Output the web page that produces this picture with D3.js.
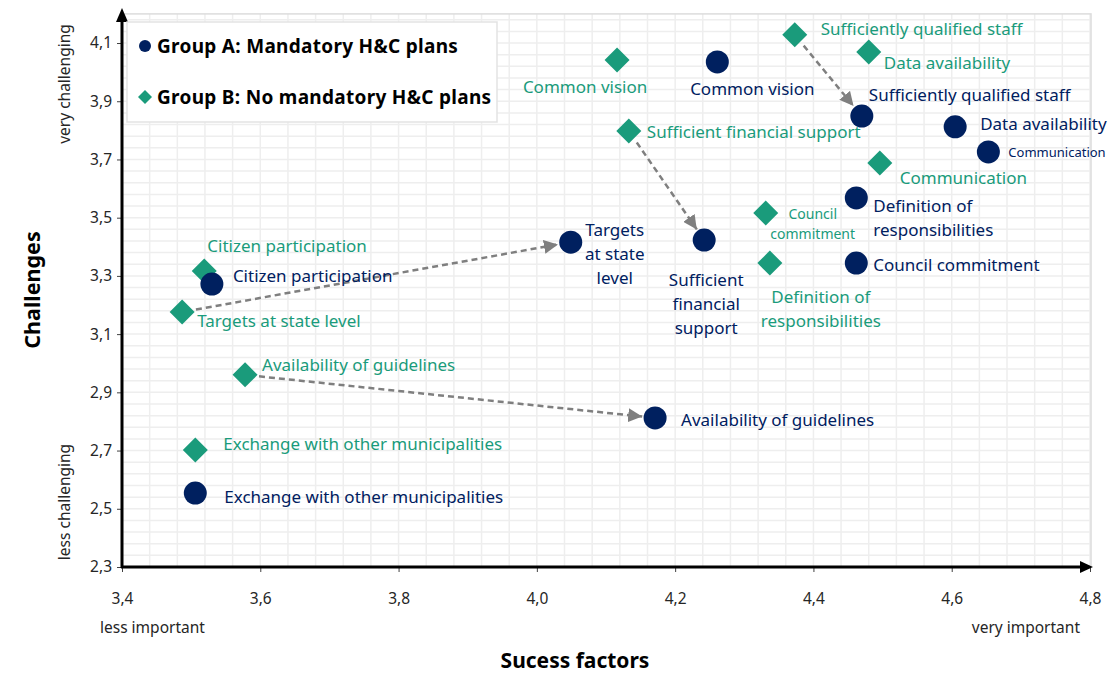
<!DOCTYPE html>
<html>
<head>
<meta charset="utf-8">
<script src="https://cdn.jsdelivr.net/npm/d3@7"></script>
<style>
  body { margin: 0; background: #fff; }
  text { font-family: "Noto Sans", "Open Sans", sans-serif; }
</style>
</head>
<body>
<svg id="chart"></svg>
<script>
// ---- data ----
var factors = [
  "Common vision", "Sufficiently qualified staff", "Data availability", "Communication",
  "Definition of responsibilities", "Council commitment", "Sufficient financial support",
  "Targets at state level", "Citizen participation", "Availability of guidelines",
  "Exchange with other municipalities"
];
// Group A: Mandatory H&C plans
var groupA_success = [4.261, 4.470, 4.605, 4.653, 4.462, 4.462, 4.242, 4.049, 3.530, 4.171, 3.506];
var groupA_challenge = [4.035, 3.849, 3.812, 3.726, 3.568, 3.344, 3.423, 3.416, 3.272, 2.812, 2.554];
// Group B: No mandatory H&C plans
var groupB_success = [4.116, 4.373, 4.480, 4.496, 4.337, 4.331, 4.133, 3.487, 3.519, 3.578, 3.506];
var groupB_challenge = [4.042, 4.128, 4.069, 3.688, 3.344, 3.516, 3.798, 3.176, 3.317, 2.960, 2.702];

var arrowFactors = ["Sufficiently qualified staff", "Sufficient financial support",
                    "Targets at state level", "Availability of guidelines"];

var xTicks = [3.4, 3.6, 3.8, 4.0, 4.2, 4.4, 4.6, 4.8];
var yTicks = [2.3, 2.5, 2.7, 2.9, 3.1, 3.3, 3.5, 3.7, 3.9, 4.1];
var groupNames = ["Group A: Mandatory H&C plans", "Group B: No mandatory H&C plans"];

// ---- label layout (pixel offsets from the marker) ----
var labelsA = {
  "Common vision": {dx: 35, dy: 26, anchor: "middle"},
  "Sufficiently qualified staff": {dx: 7, dy: -22},
  "Data availability": {dx: 25, dy: -4},
  "Communication": {dx: 20, dy: 0, size: 13},
  "Definition of responsibilities": {dx: 17, dy: 7, lines: ["Definition of", "responsibilities"]},
  "Council commitment": {dx: 17, dy: 1},
  "Sufficient financial support": {dx: 2, dy: 39, anchor: "middle", lines: ["Sufficient", "financial", "support"]},
  "Targets at state level": {dx: 44, dy: -13, anchor: "middle", lines: ["Targets", "at state", "level"]},
  "Citizen participation": {dx: 21, dy: -9},
  "Availability of guidelines": {dx: 26, dy: 1},
  "Exchange with other municipalities": {dx: 29, dy: 3}
};
var labelsB = {
  "Common vision": {dx: -32, dy: 26, anchor: "middle"},
  "Sufficiently qualified staff": {dx: 26, dy: -7},
  "Data availability": {dx: 15, dy: 10},
  "Communication": {dx: 20, dy: 14},
  "Definition of responsibilities": {dx: 51, dy: 33, anchor: "middle", lines: ["Definition of", "responsibilities"]},
  "Council commitment": {dx: 47, dy: 0, anchor: "middle", size: 14, lh: 20, lines: ["Council", "commitment"]},
  "Sufficient financial support": {dx: 18, dy: 0},
  "Targets at state level": {dx: 15, dy: 8},
  "Citizen participation": {dx: 3, dy: -26},
  "Availability of guidelines": {dx: 17, dy: -11},
  "Exchange with other municipalities": {dx: 28, dy: -7}
};

var colorA = "#00205f", colorB = "#1a9b7b";

var W = 1120, H = 675;
var svg = d3.select("#chart").attr("width", W).attr("height", H);

var x = d3.scaleLinear().domain([3.4, 4.8]).range([122, 1090]);
var y = d3.scaleLinear().domain([2.3, 4.2]).range([567, 567 - 1.9 * 291.1]);
var fmt = function(v) { return d3.format(".1f")(v).replace(".", ","); };

// grid
var gx = d3.range(0, 36).map(function(i) { return 3.4 + i * 0.04; });
var gy = d3.range(0, 48).map(function(i) { return 2.3 + i * 0.04; }).filter(function(v) { return v <= 4.2; });
var grid = svg.append("g");
grid.selectAll(".gx").data(gx).enter().append("line")
  .attr("x1", function(d) { return x(d); }).attr("x2", function(d) { return x(d); })
  .attr("y1", y(4.2)).attr("y2", y(2.3))
  .attr("stroke", "#eeeeee").attr("stroke-width", 1.5);
grid.selectAll(".gy").data(gy).enter().append("line")
  .attr("y1", function(d) { return y(d); }).attr("y2", function(d) { return y(d); })
  .attr("x1", x(3.4)).attr("x2", x(4.8))
  .attr("stroke", "#eeeeee").attr("stroke-width", 1.5);
grid.append("rect")
  .attr("x", x(3.4)).attr("y", y(4.2))
  .attr("width", x(4.8) - x(3.4) + 1).attr("height", y(2.3) - y(4.2))
  .attr("fill", "none").attr("stroke", "#dcdcdc").attr("stroke-width", 1.5);

// axes
var xAxis = svg.append("g")
  .attr("transform", "translate(0," + y(2.3) + ")")
  .call(d3.axisBottom(x).tickValues(xTicks).tickFormat(fmt).tickSize(5).tickSizeOuter(0));
var yAxis = svg.append("g")
  .attr("transform", "translate(" + x(3.4) + ",0)")
  .call(d3.axisLeft(y).tickValues(yTicks).tickFormat(fmt).tickSize(5).tickSizeOuter(0));
[xAxis, yAxis].forEach(function(a) {
  a.select(".domain").remove();
  a.selectAll(".tick line").attr("stroke", "#404040");
  a.selectAll(".tick text").attr("font-size", 15.5).attr("fill", "#262626")
    .style("font-family", "\"Noto Sans\", sans-serif");
});
xAxis.selectAll(".tick text").attr("dy", "1.9em");
yAxis.selectAll(".tick text").attr("x", -10);

// axis lines with arrows
svg.append("line").attr("x1", x(3.4) - 1).attr("x2", 1084)
  .attr("y1", y(2.3)).attr("y2", y(2.3)).attr("stroke", "#000").attr("stroke-width", 3);
svg.append("path").attr("d", "M1080," + (y(2.3) - 6) + "L1093," + y(2.3) + "L1080," + (y(2.3) + 6) + "Z").attr("fill", "#000");
svg.append("line").attr("x1", x(3.4)).attr("x2", x(3.4))
  .attr("y1", y(2.3) + 1).attr("y2", 18).attr("stroke", "#000").attr("stroke-width", 3);
svg.append("path").attr("d", "M" + (x(3.4) - 6) + ",22L" + x(3.4) + ",8L" + (x(3.4) + 6) + ",22Z").attr("fill", "#000");

// axis titles
svg.append("text").attr("x", 575).attr("y", 668).attr("text-anchor", "middle")
  .attr("font-size", 21).attr("font-weight", "bold").text("Sucess factors");
svg.append("text").attr("transform", "translate(31,290) rotate(-90)").attr("text-anchor", "middle")
  .attr("dominant-baseline", "central")
  .attr("font-size", 21.5).attr("font-weight", "bold").text("Challenges");
svg.append("text").attr("x", 100).attr("y", 627).attr("dominant-baseline", "central")
  .attr("font-size", 15.5).attr("fill", "#262626").text("less important");
svg.append("text").attr("x", 1080).attr("y", 627).attr("dominant-baseline", "central")
  .attr("text-anchor", "end").attr("font-size", 15.5).attr("fill", "#262626").text("very important");
svg.append("text").attr("transform", "translate(64,84) rotate(-90)").attr("text-anchor", "middle")
  .attr("dominant-baseline", "central")
  .attr("font-size", 15.5).attr("fill", "#262626").text("very challenging");
svg.append("text").attr("transform", "translate(64,502) rotate(-90)").attr("text-anchor", "middle")
  .attr("dominant-baseline", "central")
  .attr("font-size", 15.5).attr("fill", "#262626").text("less challenging");

// build rows
var rowsA = factors.map(function(f, i) { return {name: f, sx: groupA_success[i], cy: groupA_challenge[i]}; });
var rowsB = factors.map(function(f, i) { return {name: f, sx: groupB_success[i], cy: groupB_challenge[i]}; });

// arrows B -> A
svg.append("defs").append("marker")
  .attr("id", "arr").attr("viewBox", "0 0 10 10").attr("refX", 10).attr("refY", 5)
  .attr("markerUnits", "userSpaceOnUse").attr("markerWidth", 14).attr("markerHeight", 14)
  .attr("orient", "auto")
  .append("path").attr("d", "M0,0L10,5L0,10Z").attr("fill", "#7f7f7f");

var arrowData = arrowFactors.map(function(f) {
  var i = factors.indexOf(f);
  return {a: rowsA[i], b: rowsB[i]};
});
svg.append("g").selectAll("line").data(arrowData).enter().append("line")
  .each(function(d) {
    var x1 = x(d.b.sx), y1 = y(d.b.cy), x2 = x(d.a.sx), y2 = y(d.a.cy);
    var len = Math.sqrt((x2 - x1) * (x2 - x1) + (y2 - y1) * (y2 - y1));
    var ux = (x2 - x1) / len, uy = (y2 - y1) / len;
    d3.select(this)
      .attr("x1", x1 + ux * 14).attr("y1", y1 + uy * 14)
      .attr("x2", x2 - ux * 13).attr("y2", y2 - uy * 13);
  })
  .attr("stroke", "#7f7f7f").attr("stroke-width", 2.5)
  .attr("stroke-dasharray", "6,4").attr("marker-end", "url(#arr)");

// markers
function diamond(h) { return "M0," + (-h) + "L" + h + ",0L0," + h + "L" + (-h) + ",0Z"; }

svg.append("g").selectAll("path").data(rowsB).enter().append("path")
  .attr("d", diamond(12.5))
  .attr("transform", function(d) { return "translate(" + x(d.sx) + "," + y(d.cy) + ")"; })
  .attr("fill", colorB);

svg.append("g").selectAll("circle").data(rowsA).enter().append("circle")
  .attr("cx", function(d) { return x(d.sx); })
  .attr("cy", function(d) { return y(d.cy); })
  .attr("r", 11.5)
  .attr("fill", colorA);

// labels
function drawLabels(rows, layout, color) {
  var g = svg.append("g");
  rows.forEach(function(d) {
    var L = layout[d.name];
    var lines = L.lines || [d.name];
    var lh = L.lh || 24;
    var t = g.append("text")
      .attr("x", x(d.sx) + L.dx)
      .attr("y", y(d.cy) + L.dy)
      .attr("text-anchor", L.anchor || "start")
      .attr("dominant-baseline", "central")
      .attr("font-size", L.size || 17)
      .attr("fill", color);
    lines.forEach(function(s, k) {
      t.append("tspan").attr("x", x(d.sx) + L.dx).attr("y", y(d.cy) + L.dy + k * lh).text(s);
    });
  });
}
drawLabels(rowsB, labelsB, colorB);
drawLabels(rowsA, labelsA, colorA);

// legend
var leg = svg.append("g");
leg.append("rect").attr("x", 127).attr("y", 22).attr("width", 370).attr("height", 100)
  .attr("fill", "#fff").attr("stroke", "#e3e3e3").attr("stroke-width", 1.5);
leg.append("circle").attr("cx", 145).attr("cy", 46).attr("r", 6).attr("fill", colorA);
leg.append("path").attr("d", diamond(7)).attr("transform", "translate(145,97)").attr("fill", colorB);
leg.selectAll(".lt").data(groupNames).enter().append("text")
  .attr("x", 157).attr("y", function(d, i) { return i === 0 ? 46 : 97; })
  .attr("dominant-baseline", "central")
  .attr("font-size", 19).attr("font-weight", "bold").attr("fill", "#000")
  .attr("letter-spacing", 0.3)
  .text(function(d) { return d; });
</script>
</body>
</html>
